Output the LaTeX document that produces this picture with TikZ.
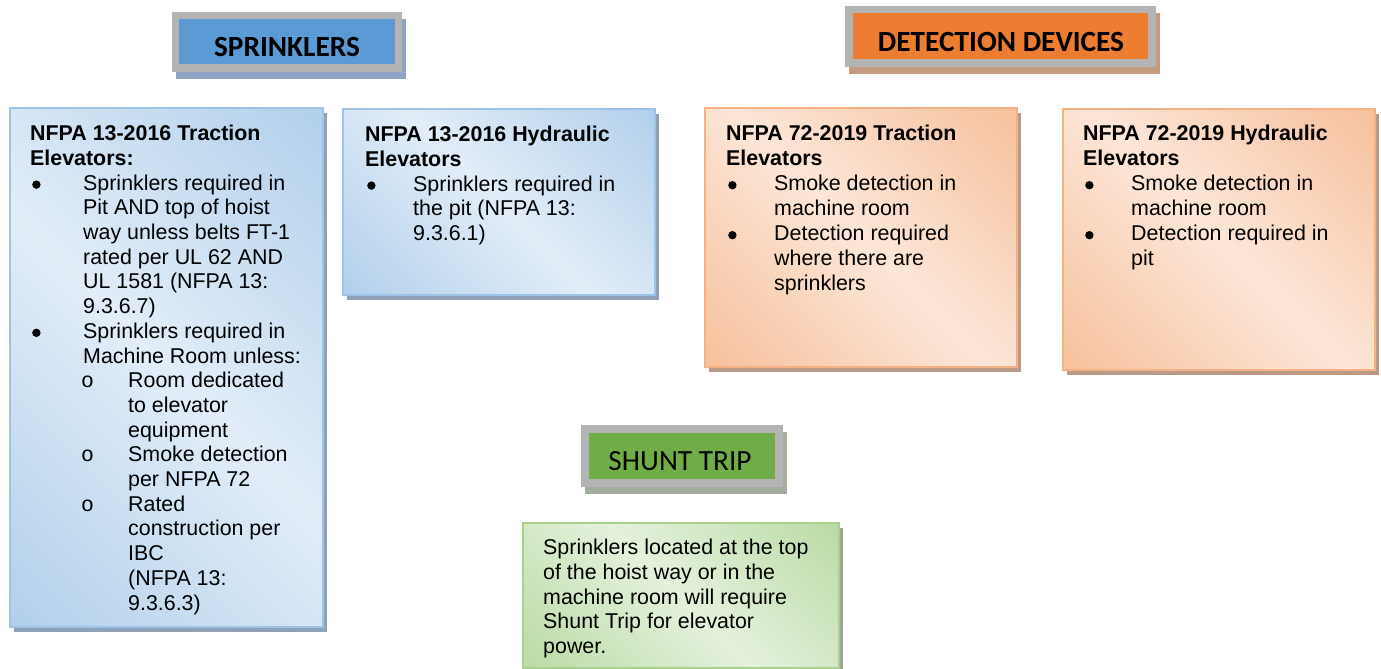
\documentclass[tikz,border=0pt]{standalone}
\usepackage{fontspec}
\setmainfont{Liberation Sans}
\newfontfamily\calfont{Carlito}
\newfontfamily\monofont{Liberation Mono}
\usetikzlibrary{shadows}

\definecolor{bdark}{HTML}{9DC3E6}
\definecolor{blight}{HTML}{E2EDF8}
\definecolor{odark}{HTML}{F4B183}
\definecolor{olight}{HTML}{FCE6D8}
\definecolor{gdark}{HTML}{A9D18E}
\definecolor{glight}{HTML}{E4F1DC}
\definecolor{bshad}{HTML}{8FA1B6}
\definecolor{oshad}{HTML}{B89A87}
\definecolor{gshad}{HTML}{9FA69A}
\definecolor{hblue}{HTML}{5B9BD5}
\definecolor{horange}{HTML}{ED7D31}
\definecolor{hgreen}{HTML}{70AD47}
\definecolor{hgray}{HTML}{B4B4B4}
\definecolor{hbshad}{HTML}{8EA5C5}
\definecolor{hoshad}{HTML}{C49A80}
\definecolor{hgshad}{HTML}{A3AE9E}

\pgfdeclarehorizontalshading{blueshade}{100bp}{color(0bp)=(bdark); color(50bp)=(blight); color(100bp)=(bdark)}
\pgfdeclarehorizontalshading{orangeshade}{100bp}{color(0bp)=(odark); color(50bp)=(olight); color(100bp)=(odark)}
\pgfdeclarehorizontalshading{greenshade}{100bp}{color(0bp)=(gdark); color(50bp)=(glight); color(100bp)=(gdark)}

\newcommand{\bdot}{\tikz[baseline={(0pt,-5.5pt)}]\fill (0pt,0pt) circle[radius=4.2pt];}
\newcommand{\bu}[1]{\makebox[#1][l]{\hspace*{2pt}\bdot}}
\newcommand{\ob}[2]{\hspace*{#1}\makebox[#2][l]{{\monofont o}}}
\newcommand{\ind}[1]{\hspace*{#1}}

\tikzset{
  card/.style n args={3}{rectangle, anchor=north west, inner sep=0pt,
    shading=#1, shading angle=45, draw=#2, line width=2pt,
    drop shadow={shadow xshift=4pt, shadow yshift=-5pt, fill=#3, opacity=1}},
  hdrframe/.style n args={2}{rectangle, inner sep=0pt, fill=hgray,
    drop shadow={shadow xshift=3.5pt, shadow yshift=-7pt, fill=#2, opacity=1}},
  hdrinner/.style={rectangle, inner sep=0pt, fill=#1},
  hdrtext/.style={inner sep=0pt, font=\calfont\fontsize{29.3}{32}\selectfont},
  hdrbold/.style={hdrtext, font=\calfont\bfseries\fontsize{29.3}{32}\selectfont},
  txt/.style={anchor=north west, inner sep=0pt, align=left,
    font=\fontsize{21.4}{24.7}\selectfont},
  txtwide/.style={txt, font=\fontsize{21.4}{25}\selectfont}
}

\begin{document}
\begin{tikzpicture}[x=1pt,y=-1pt]
\useasboundingbox (0,0) rectangle (1381,669);

% headers
\node[hdrframe={}{hbshad}, minimum width=230pt, minimum height=60pt] (h1) at (287,42) {};
\node[hdrinner=hblue, minimum width=216pt, minimum height=45pt] (h1i) at (287,41.5) {};
\node[hdrbold] (h1t) at (287,47) {SPRINKLERS};

\node[hdrframe={}{hoshad}, minimum width=311pt, minimum height=61pt] (h2) at (1000.5,36.5) {};
\node[hdrinner=horange, minimum width=295pt, minimum height=46pt] (h2i) at (1000.5,36) {};
\node[hdrbold] (h2t) at (1001,41.5) {DETECTION DEVICES};

\node[hdrframe={}{hgshad}, minimum width=202pt, minimum height=62pt] (h3) at (682,456) {};
\node[hdrinner=hgreen, minimum width=186pt, minimum height=46pt] (h3i) at (682,456) {};
\node[hdrtext] (h3t) at (680,461.5) {SHUNT TRIP};

% cards
\node[card={blueshade}{bdark}{bshad}, minimum width=313pt, minimum height=519pt] (b1) at (9,107) {};
\node[card={blueshade}{bdark}{bshad}, minimum width=312pt, minimum height=186pt] (b2) at (342,108) {};
\node[card={orangeshade}{odark}{oshad}, minimum width=312pt, minimum height=259pt] (b3) at (704,107) {};
\node[card={orangeshade}{odark}{oshad}, minimum width=312pt, minimum height=261pt] (b4) at (1062,108) {};
\node[card={greenshade}{gdark}{gshad}, minimum width=316pt, minimum height=145pt] (b5) at (522,522) {};

% texts
\node[txt] (t1) at (30,125) {%
\textbf{NFPA 13-2016 Traction}\\
\textbf{Elevators:}\\
\bu{53pt}Sprinklers required in\\
\ind{53pt}Pit AND top of hoist\\
\ind{53pt}way unless belts FT-1\\
\ind{53pt}rated per UL 62 AND\\
\ind{53pt}UL 1581 (NFPA 13:\\
\ind{53pt}9.3.6.7)\\
\bu{53pt}Sprinklers required in\\
\ind{53pt}Machine Room unless:\\
\ob{51pt}{47pt}Room dedicated\\
\ind{98pt}to elevator\\
\ind{98pt}equipment\\
\ob{51pt}{47pt}Smoke detection\\
\ind{98pt}per NFPA 72\\
\ob{51pt}{47pt}Rated\\
\ind{98pt}construction per\\
\ind{98pt}IBC\\
\ind{98pt}(NFPA 13:\\
\ind{98pt}9.3.6.3)};

\node[txt] (t2) at (365,126) {%
\textbf{NFPA 13-2016 Hydraulic}\\
\textbf{Elevators}\\
\bu{48pt}Sprinklers required in\\
\ind{48pt}the pit (NFPA 13:\\
\ind{48pt}9.3.6.1)};

\node[txtwide] (t3) at (726,125) {%
\textbf{NFPA 72-2019 Traction}\\
\textbf{Elevators}\\
\bu{48pt}Smoke detection in\\
\ind{48pt}machine room\\
\bu{48pt}Detection required\\
\ind{48pt}where there are\\
\ind{48pt}sprinklers};

\node[txtwide] (t4) at (1083,125) {%
\textbf{NFPA 72-2019 Hydraulic}\\
\textbf{Elevators}\\
\bu{48pt}Smoke detection in\\
\ind{48pt}machine room\\
\bu{48pt}Detection required in\\
\ind{48pt}pit};

\node[txt] (t5) at (543,539) {%
Sprinklers located at the top\\
of the hoist way or in the\\
machine room will require\\
Shunt Trip for elevator\\
power.};
\end{tikzpicture}
\end{document}
